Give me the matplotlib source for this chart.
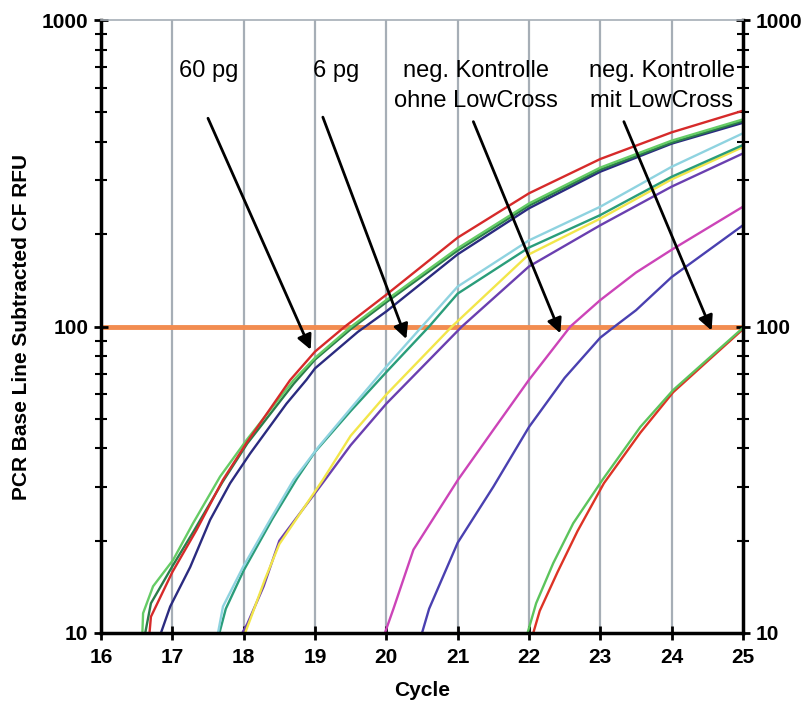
import matplotlib
matplotlib.use("Agg")
import matplotlib.pyplot as plt
from matplotlib.ticker import NullFormatter, LogLocator

plt.rcParams['font.family'] = ['Liberation Sans', 'DejaVu Sans']

# 60 pg
red60_x = [16.68, 16.7, 17.0, 17.34, 17.71, 18.04, 18.65, 19.0, 19.42, 20.0, 21.0, 22.0, 23.0, 24.0, 25.0]
red60_y = [10, 11.3, 15.8, 21.7, 31.6, 41.7, 66.8, 82.8, 100, 127, 195, 272, 352, 430, 506]
green60_x = [16.58, 16.59, 16.73, 17.01, 17.29, 17.67, 18.04, 18.7, 19.0, 19.51, 20.0, 21.0, 22.0, 23.0, 24.0, 25.0]
green60_y = [10, 11.6, 14.2, 17.3, 22.8, 32.4, 42.6, 66.8, 79, 100, 122, 180, 252, 330, 404, 474]
dkgreen60_x = [16.62, 16.7, 17.0, 17.3, 17.7, 18.05, 18.7, 19.0, 19.5, 20.0, 21.0, 22.0, 23.0, 24.0, 25.0]
dkgreen60_y = [10, 12.5, 16.5, 21.5, 31, 41.5, 65, 78, 98, 120, 177, 248, 325, 398, 468]
navy60_x = [16.84, 16.97, 17.25, 17.53, 17.81, 18.09, 18.6, 18.88, 19.0, 19.6, 20.0, 21.0, 22.0, 23.0, 24.0, 25.0]
navy60_y = [10, 12.2, 16.4, 23.4, 30.8, 38.5, 56, 67, 73, 96, 112, 172, 243, 320, 395, 462]

# 6 pg
cyan6_x = [17.64, 17.71, 17.99, 18.37, 18.7, 19.05, 19.5, 20.0, 20.5, 21.0, 22.0, 23.0, 24.0, 25.0]
cyan6_y = [10, 12.2, 16.4, 23.4, 31.6, 40.5, 54, 74, 100, 135, 191, 246, 332, 427]
teal6_x = [17.66, 17.75, 18.0, 18.4, 18.75, 19.0, 19.5, 20.0, 20.6, 21.0, 22.0, 23.0, 24.0, 25.0]
teal6_y = [10, 12, 16, 23.5, 32, 39, 53, 71, 100, 128, 181, 231, 308, 391]
yellow6_x = [18.02, 18.1, 18.3, 18.5, 19.11, 19.5, 20.0, 20.92, 22.0, 23.0, 24.0, 25.0]
yellow6_y = [10, 11.2, 15, 19.5, 31.6, 44, 60, 100, 172, 225, 302, 385]
purple6_x = [17.98, 18.05, 18.28, 18.5, 19.14, 19.5, 20.0, 21.06, 22.0, 23.0, 24.0, 25.0]
purple6_y = [10, 10.7, 14.2, 20, 31.6, 41, 56, 100, 157, 214, 286, 367]

# neg. Kontrolle ohne LowCross
magenta_x = [19.98, 20.1, 20.38, 21.0, 21.5, 22.0, 22.58, 23.0, 23.5, 24.0, 25.0]
magenta_y = [10, 12, 18.7, 31.5, 46, 67, 100, 122, 150, 178, 246]
blue_x = [20.5, 20.6, 21.0, 21.5, 22.0, 22.5, 23.0, 23.2, 23.5, 24.0, 25.0]
blue_y = [10, 12, 19.7, 30, 47, 68, 92, 100, 113, 145, 214]

# neg. Kontrolle mit LowCross
greenLC_x = [21.98, 22.1, 22.34, 22.62, 23.03, 23.56, 24.02, 24.5, 25.0]
greenLC_y = [10, 12.5, 16.9, 22.8, 31.6, 47, 62, 78, 99]
redLC_x = [22.06, 22.15, 22.4, 22.68, 23.05, 23.56, 24.02, 24.5, 25.0]
redLC_y = [10, 11.8, 15.8, 21.5, 30.8, 45, 61, 77, 98]

threshold = 100

labels = [
    (17.51, ['60 pg']),
    (19.29, ['6 pg']),
    (21.26, ['neg. Kontrolle', 'ohne LowCross']),
    (23.86, ['neg. Kontrolle', 'mit LowCross']),
]
# arrow start / tip in data coordinates
arrows = [
    ((17.50, 478), (18.94, 84)),
    ((19.11, 482), (20.28, 91)),
    ((21.22, 466), (22.44, 95)),
    ((23.33, 466), (24.56, 97)),
]

fig = plt.figure(figsize=(8.08, 7.15), dpi=100)
ax = fig.add_axes([101 / 808, 82 / 715, 642 / 808, 613 / 715])

ax.set_yscale('log')
ax.set_xlim(16, 25)
ax.set_ylim(10, 1000)

for x in range(17, 25):
    ax.axvline(x, color='#a6aeb6', lw=1.6, zorder=0)

ax.axhline(threshold, color='#f28c50', lw=3.5, zorder=1)

curves = [
    (redLC_x, redLC_y, '#dd3325'),
    (greenLC_x, greenLC_y, '#5cc45c'),
    (blue_x, blue_y, '#4a40b0'),
    (magenta_x, magenta_y, '#cc44b8'),
    (purple6_x, purple6_y, '#6a3fb0'),
    (yellow6_x, yellow6_y, '#f2e64a'),
    (teal6_x, teal6_y, '#2a9d7a'),
    (cyan6_x, cyan6_y, '#8fd3e0'),
    (navy60_x, navy60_y, '#2b2b80'),
    (dkgreen60_x, dkgreen60_y, '#2a7d4a'),
    (green60_x, green60_y, '#66cc66'),
    (red60_x, red60_y, '#d62a2a'),
]
for xs, ys, c in curves:
    ax.plot(xs, ys, color=c, lw=1.7, zorder=2)

for (x0, y0), (x1, y1) in arrows:
    ax.annotate('', xy=(x1, y1), xytext=(x0, y0),
                arrowprops=dict(arrowstyle='-|>', color='black', lw=2, mutation_scale=22,
                                shrinkA=0, shrinkB=0), zorder=5)

for x, lines in labels:
    for i, line in enumerate(lines):
        ax.annotate(line, xy=(x, 1000), xycoords='data', xytext=(0, -57 - 30 * i),
                    textcoords='offset pixels', ha='center', va='baseline', fontsize=17)

for side in ['left', 'bottom', 'right']:
    ax.spines[side].set_linewidth(2.5)
    ax.spines[side].set_color('black')
ax.spines['top'].set_linewidth(1.2)
ax.spines['top'].set_color('#a6aeb6')

ax.set_xticks(range(16, 26))
ax.set_yticks([10, 100, 1000], labels=['10', '100', '1000'])
ax.yaxis.set_minor_locator(LogLocator(base=10, subs=range(2, 10)))
ax.yaxis.set_minor_formatter(NullFormatter())

ax.tick_params(axis='x', which='major', direction='inout', length=10, width=2, pad=6,
               labelsize=15)
ax.tick_params(axis='y', which='major', direction='inout', length=10, width=2, pad=4,
               labelsize=15, right=True, labelright=True)
ax.tick_params(axis='y', which='minor', direction='inout', length=8, width=1.5, right=True)
for lab in ax.get_xticklabels() + ax.get_yticklabels():
    lab.set_fontweight('bold')

ax.set_xlabel('Cycle', fontsize=15, fontweight='bold', labelpad=10)
ax.set_ylabel('PCR Base Line Subtracted CF RFU', fontsize=15, fontweight='bold', labelpad=8)

fig.savefig('out.png', dpi=100)
